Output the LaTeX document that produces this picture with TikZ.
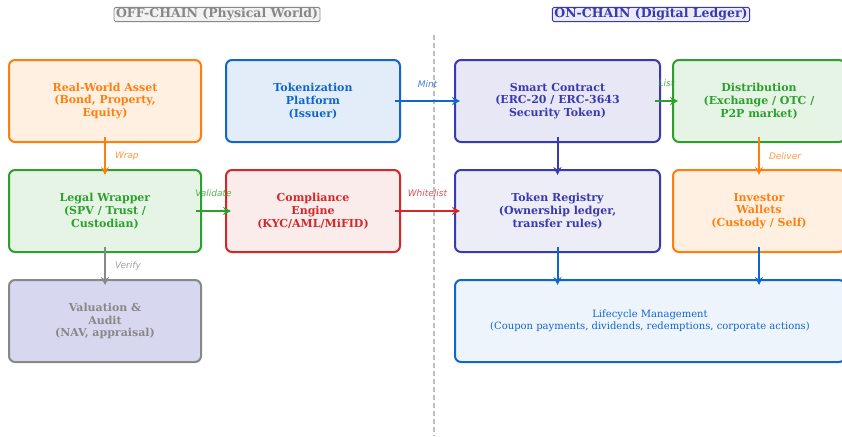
\documentclass[tikz,border=0pt]{standalone}
\usepackage{fontspec}
\setmainfont{DejaVu Serif}
\setsansfont{DejaVu Sans}
\usetikzlibrary{arrows.meta}
\definecolor{rwaorange}{RGB}{255,127,14}
\definecolor{rwablue}{RGB}{17,102,204}
\definecolor{rwaindigo}{RGB}{57,57,178}
\definecolor{rwagreen}{RGB}{44,160,44}
\definecolor{rwared}{RGB}{214,39,40}
\definecolor{rwagray}{RGB}{136,136,136}

\tikzset{
  box/.style={draw, rounded corners=6pt, line width=2pt, align=center,
    minimum height=82pt, inner sep=2pt,
    font=\bfseries\fontsize{11}{12.7}\selectfont},
  title/.style={draw, rounded corners=1.5pt, line width=0.9pt, inner xsep=2pt, inner ysep=1pt,
    font=\bfseries\fontsize{12.5}{14}\selectfont},
  flow/.style={-{Stealth[length=8pt,width=8pt]}, line width=2pt,
    shorten <=-6pt, shorten >=-6pt},
  lbl/.style={font=\sffamily\itshape\fontsize{9}{10}\selectfont, inner sep=1pt, text opacity=0.8}
}

\begin{document}
\begin{tikzpicture}[x=1pt,y=-1pt]
    \useasboundingbox (0,0) rectangle (842,436);

    % section titles
    \node[title, draw=rwagray, fill=gray!10, text=rwagray] (offtitle) at (217,14.5) {OFF-CHAIN (Physical World)};
    \node[title, draw=rwaindigo, fill=rwaindigo!10, text=rwaindigo] (ontitle) at (651,14.5) {ON-CHAIN (Digital Ledger)};

    % divider
    \coordinate (divtop) at (434,35);
    \coordinate (divbot) at (434,436);
    \draw[gray!50, line width=1.3pt, dash pattern=on 5pt off 3pt] (divtop) -- (divbot);

    % off-chain boxes
    \node[box, minimum width=192pt, draw=rwaorange, fill=rwaorange!12, text=rwaorange] (asset) at (105,101) {Real-World Asset\\(Bond, Property,\\Equity)};
    \node[box, minimum width=174pt, draw=rwablue, fill=rwablue!12, text=rwablue] (platform) at (313,101) {Tokenization\\Platform\\(Issuer)};
    \node[box, minimum width=192pt, draw=rwagreen, fill=rwagreen!12, text=rwagreen] (wrapper) at (105,211) {Legal Wrapper\\(SPV / Trust /\\Custodian)};
    \node[box, minimum width=174pt, draw=rwared, fill=rwared!9, text=rwared] (compliance) at (313,211) {Compliance\\Engine\\(KYC/AML/MiFID)};
    \node[box, minimum width=192pt, draw=rwagray, fill=rwaindigo!20, text=rwagray] (audit) at (105,321) {Valuation \&\\Audit\\(NAV, appraisal)};

    % on-chain boxes
    \node[box, minimum width=205pt, draw=rwaindigo, fill=rwaindigo!12, text=rwaindigo] (contract) at (557.5,101) {Smart Contract\\(ERC-20 / ERC-3643\\Security Token)};
    \node[box, minimum width=172pt, draw=rwagreen, fill=rwagreen!12, text=rwagreen] (distrib) at (759,101) {Distribution\\(Exchange / OTC /\\P2P market)};
    \node[box, minimum width=205pt, draw=rwaindigo, fill=rwaindigo!9, text=rwaindigo] (registry) at (557.5,211) {Token Registry\\(Ownership ledger,\\transfer rules)};
    \node[box, minimum width=172pt, draw=rwaorange, fill=rwaorange!12, text=rwaorange] (wallets) at (759,211) {Investor\\Wallets\\(Custody / Self)};
    \node[box, minimum width=390pt, draw=rwablue, fill=rwablue!7, text=rwablue, font=\fontsize{10}{11.7}\selectfont] (lifecycle) at (650,321) {Lifecycle Management\\(Coupon payments, dividends, redemptions, corporate actions)};

    % flows
    \draw[flow, rwaorange] (asset) -- node[lbl, right=8pt] (wraplbl) {Wrap} (wrapper);
    \draw[flow, rwagray] (wrapper) -- node[lbl, right=8pt] (verifylbl) {Verify} (audit);
    \draw[flow, rwagreen] (wrapper) -- node[lbl, above=12pt] (validlbl) {Validate} (compliance);
    \draw[flow, rwablue] (platform) -- node[lbl, above=12pt] (mintlbl) {Mint} (contract);
    \draw[flow, rwared] (compliance) -- node[lbl, above=12pt] (whitelbl) {Whitelist} (registry);
    \draw[flow, rwagreen] (contract) -- node[lbl, above=12pt] (listlbl) {List} (distrib);
    \draw[flow, rwaindigo] (contract) -- (registry);
    \draw[flow, rwaorange] (distrib) -- node[lbl, right=8pt] (deliverlbl) {Deliver} (wallets);
    \draw[flow, rwablue] (registry) -- (registry.south |- lifecycle.north);
    \draw[flow, rwablue] (wallets) -- (wallets.south |- lifecycle.north);
\end{tikzpicture}
\end{document}
